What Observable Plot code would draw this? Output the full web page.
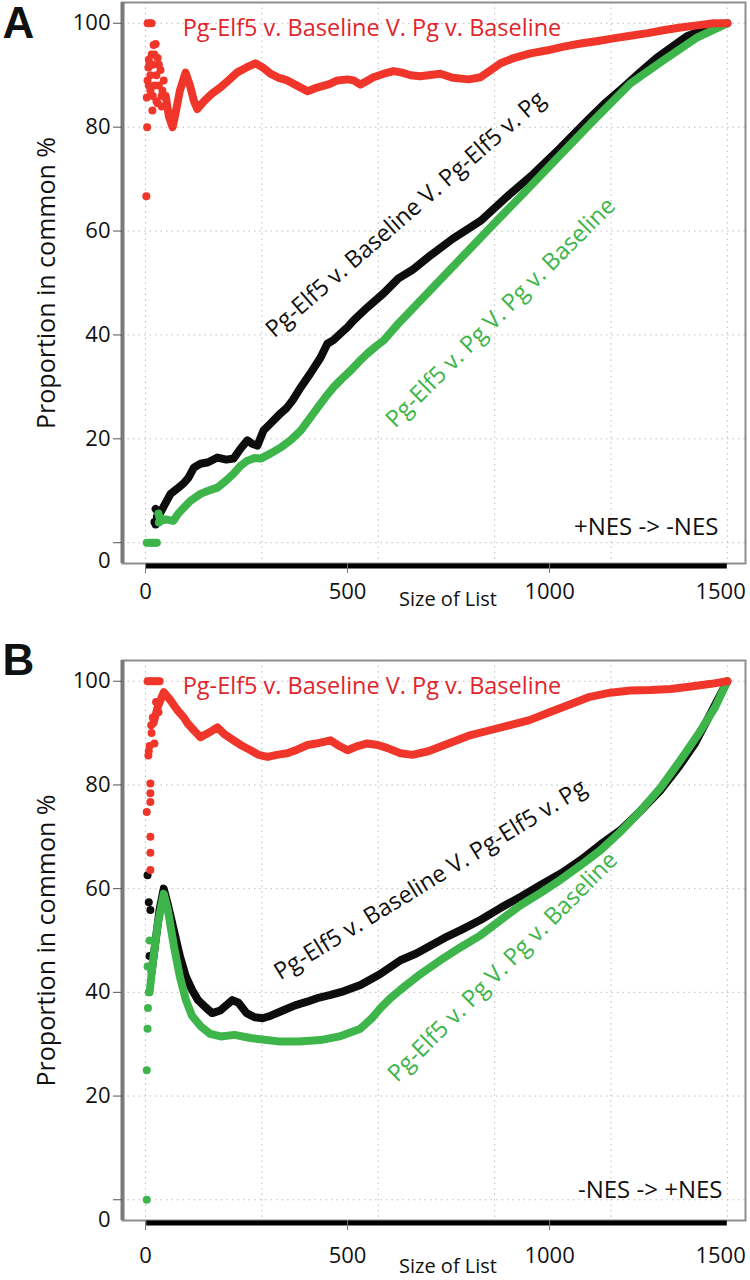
<!DOCTYPE html>
<html><head><meta charset="utf-8">
<script src="https://cdn.jsdelivr.net/npm/d3@7"></script>
<script src="https://cdn.jsdelivr.net/npm/@observablehq/plot@0.6"></script>
<style>
body{margin:0;background:#fff;}
#chart{width:750px;}
#chart svg{display:block;}
</style></head><body><div id="chart"></div>
<script>
// ---------- shared axis values ----------
const yTicks = [0, 20, 40, 60, 80, 100];
const xTicks = [0, 500, 1000, 1500];
const gridX = [0, 288, 576, 864, 1152, 1440];

// ---------- Panel A (+NES -> -NES) ----------
const aRedX = [50,58,67,75,85,99,110,120,128,145,165,186,205,228,250,272,290,309,330,351,375,401,420,433,455,475,500,515,532,550,564,590,614,635,656,680,700,730,760,800,829,855,879,911,953,995,1035,1077,1120,1158,1200,1243,1285,1324,1365,1406,1440];
const aRedY = [86,82,80,83,87,90.5,88,85,83.5,85,86.5,87.7,89,90.6,91.5,92.3,91.5,90.3,89.5,89,88,86.9,87.5,87.8,88.3,89,89.2,89,88.2,89,89.6,90.3,90.8,90.5,90,89.8,90,90.3,89.5,89.2,89.6,91,92.3,93.3,94.2,94.8,95.5,96.1,96.6,97.1,97.6,98.1,98.7,99.2,99.6,100,100];
const aRedDotX = [2,4,5,10,15,3,5,7,10,12,15,17,20,25,30,30,37,42,45,8,8,12,18,18,22,22,27,27,33,33,40,40];
const aRedDotY = [66.7,80,100,100,100,85.7,89,91.5,92,87,94,83.2,95.8,96,93.3,84.6,91,87,89,88,93,90,86,92,88,94,85,90,88,92,84,86];

const aBlackX = [25,35,45,62,80,95,106,120,136,155,178,200,218,235,252,265,277,292,310,334,350,364,384,408,433,450,465,483,500,515,549,589,626,660,700,760,830,900,960,1020,1094,1140,1183,1225,1265,1300,1340,1400,1440];
const aBlackY = [6.5,5.5,7,9.4,10.5,11.5,12.5,14.5,15.2,15.5,16.4,16,16.2,18.1,19.7,19,18.7,21.6,23,24.9,26,27.4,29.9,32.6,35.6,38.3,39,40.3,41.5,42.8,45.3,48,50.9,52.5,55,58.5,62,67,71,75.5,81.3,84.8,87.7,90.6,93.3,95.3,97.5,99.3,100];
const aBlackDotX = [22,25,28];
const aBlackDotY = [4,3.5,5];

const aGreenX = [32,37,50,69,80,94,110,136,155,178,200,218,235,252,270,285,310,334,360,384,405,426,445,465,485,507,530,549,570,589,610,626,700,780,860,940,1020,1109,1200,1282,1366,1440];
const aGreenY = [5.6,4.2,4.5,4.2,5.5,6.7,8,9.4,10,10.6,12,13.3,14.8,15.8,16.3,16.2,17.2,18.3,19.8,21.6,23.8,26,28,29.9,31.5,33.1,35,36.4,37.8,38.9,40.8,42.2,48.2,54.7,61.2,67.6,74.1,81.3,88.4,92.9,97.3,100];
const aGreenDotX = [3,8,13,18,23,28,33];
const aGreenDotY = [0,0,0,0,0,0,3.9];

// ---------- Panel B (-NES -> +NES) ----------
const bRedX = [20,30,45,60,79,95,104,120,136,155,178,195,218,240,260,280,302,325,351,375,401,430,458,480,500,525,549,575,599,631,660,700,750,800,850,900,950,1000,1050,1100,1150,1200,1250,1300,1350,1400,1440];
const bRedY = [92,95,97.9,96.5,94.4,93,91.9,90.5,89.2,90,91.1,89.8,88.6,87.5,86.7,85.8,85.4,85.8,86.1,86.8,87.7,88.1,88.6,87.5,86.7,87.5,88,87.7,87.1,86.1,85.8,86.5,88,89.5,90.5,91.5,92.5,94,95.5,97,97.8,98.2,98.3,98.5,99,99.5,100];
const bRedDotX = [5,10,15,20,25,30,35,7,12,12,12,3,12,12,12,15,18,22,8,10,14,26,32];
const bRedDotY = [100,100,100,100,100,100,100,85.7,80.3,78.4,76.7,74.8,70,66.9,63.6,90,93,88,86.5,87.5,91.5,96,94];

const bBlackX = [15,25,35,45,55,70,85,100,115,130,150,165,185,200,215,230,250,270,290,310,340,370,400,430,458,490,532,580,631,670,705,740,780,830,879,930,978,1030,1077,1126,1176,1225,1275,1320,1360,1400,1440];
const bBlackY = [44,50,56,60,57,52,47,43,40.5,38.5,37,36,36.5,37.5,38.5,38,36,35.2,35,35.5,36.5,37.5,38.2,39,39.5,40.2,41.4,43.5,46.2,47.5,49,50.5,52,54,56.3,58.5,60.7,63,65.5,68.5,71.3,75,79,83.5,88,94,100];
const bBlackDotX = [5,8,12,10];
const bBlackDotY = [62.6,57.4,55.9,47];

const bGreenX = [10,20,30,45,55,70,85,100,115,136,160,186,220,260,300,334,380,433,480,532,560,582,605,631,680,730,780,829,880,928,978,1027,1077,1126,1176,1225,1275,1324,1370,1410,1440];
const bGreenY = [40,47,53,59,56,49,43,38.5,35.5,33.5,32,31.5,31.8,31.2,30.8,30.5,30.5,30.8,31.5,33,35,37,38.8,40.5,43.5,46.2,48.7,51,54,56.8,59.2,61.7,64.5,67.4,71,75,79.5,84.8,90,95,100];
const bGreenDotX = [3,3,5,8,5,10,6];
const bGreenDotY = [0,25,33,40,45,50,37];

// ---------- labels ----------
const redName = "Pg-Elf5 v. Baseline V. Pg v. Baseline";
const blackName = "Pg-Elf5 v. Baseline V. Pg-Elf5 v. Pg";
const greenName = "Pg-Elf5 v. Pg V. Pg v. Baseline";

const RED = "#f0362a", BLACK = "#0d0d0d", GREEN = "#3db54a";
const FONT = "Open Sans";

const rows = (xs, ys) => xs.map((x, i) => ({x, y: ys[i]}));

function panel(p) {
  const allX = [...p.redX, ...p.blackX, ...p.greenX, ...p.redDotX, ...p.greenDotX];
  const lineOpts = (c) => ({x: "x", y: "y", stroke: c, strokeWidth: 8, strokeLinejoin: "round", strokeLinecap: "round"});
  const dotOpts = (c) => ({x: "x", y: "y", r: 4, fill: c});
  const fmt = (d) => String(d);
  return Plot.plot({
    width: 750, height: p.height,
    marginTop: p.marginTop, marginBottom: p.marginBottom, marginLeft: 122, marginRight: 5,
    style: {fontFamily: FONT, fontSize: "22px", color: "#111", background: "#fff", overflow: "visible"},
    x: {domain: [-57, 1485]},
    y: {domain: [-4, 104]},
    marks: [
      Plot.ruleY(yTicks, {stroke: "#bdbdbd", strokeDasharray: "1.5,4"}),
      Plot.ruleX(gridX, {stroke: "#bdbdbd", strokeDasharray: "1.5,4"}),
      Plot.frame({stroke: "#8e8e8e", strokeWidth: 2}),
      Plot.ruleX([-57], {stroke: "#7a7a7a", strokeWidth: 4}),
      // series
      Plot.dot(rows(p.blackDotX, p.blackDotY), dotOpts(BLACK)),
      Plot.line(rows(p.blackX, p.blackY), lineOpts(BLACK)),
      Plot.dot(rows(p.greenDotX, p.greenDotY), dotOpts(GREEN)),
      Plot.line(rows(p.greenX, p.greenY), lineOpts(GREEN)),
      Plot.dot(rows(p.redDotX, p.redDotY), dotOpts(RED)),
      Plot.line(rows(p.redX, p.redY), lineOpts(RED)),
      // rug of list sizes along the bottom
      Plot.ruleY([-4.5], {x1: d3.min(allX), x2: d3.max(allX), stroke: "#000", strokeWidth: 5}),
      // axes
      Plot.axisY(yTicks, {label: null, tickSize: 9, tickPadding: 3, stroke: "#555", fill: "#111", fontSize: 22,
        tickFormat: (d) => d === 0 ? "" : fmt(d)}),
      Plot.axisY([0], {label: null, tickSize: 0, tickPadding: 12, dy: p.zeroDy, fill: "#111", fontSize: 22, tickFormat: fmt}),
      Plot.axisX(xTicks.filter((d) => d < 1500), {label: null, tickSize: 10, tickPadding: p.xPad, stroke: "#777", fill: "#111", fontSize: 22, tickFormat: fmt}),
      Plot.axisX([1500], {label: null, tickSize: 0, tickPadding: p.xPad + 10, dx: -31, fill: "#111", fontSize: 22, tickFormat: fmt}),
      Plot.text(["Size of List"], {frameAnchor: "bottom", dx: 14, dy: p.xLabelDy, fontSize: 20, fill: "#111"}),
      Plot.text(["Proportion in common %"], {frameAnchor: "left", textAnchor: "middle", rotate: -90, dx: -76, fontSize: 25, fill: "#111"}),
      Plot.text([p.letter], {frameAnchor: "top-left", textAnchor: "start", lineAnchor: "top", dx: -120, dy: p.letterDy, fontSize: 44, fontWeight: "bold",
        fontFamily: "Liberation Sans", fill: "#111"}),
      // series labels
      Plot.text([{x: 92, y: 99, t: redName}], {x: "x", y: "y", text: "t", textAnchor: "start", fill: "#e0252c", fontSize: 23.5}),
      Plot.text([{x: p.blackLab[0], y: p.blackLab[1], t: blackName}], {x: "x", y: "y", text: "t", rotate: p.blackLab[2], fill: "#111", fontSize: 23.5}),
      Plot.text([{x: p.greenLab[0], y: p.greenLab[1], t: greenName}], {x: "x", y: "y", text: "t", rotate: p.greenLab[2], fill: GREEN, fontSize: 23.5}),
      Plot.text([{x: p.dirLab[0], y: p.dirLab[1], t: p.dir}], {x: "x", y: "y", text: "t", textAnchor: "end", fill: "#111", fontSize: 24})
    ]
  });
}

const chart = document.getElementById("chart");
chart.append(panel({
  letter: "A", height: 620, marginTop: 2, marginBottom: 57, zeroDy: 18, xPad: 10, xLabelDy: 42, letterDy: 4,
  redX: aRedX, redY: aRedY, redDotX: aRedDotX, redDotY: aRedDotY,
  blackX: aBlackX, blackY: aBlackY, blackDotX: aBlackDotX, blackDotY: aBlackDotY,
  greenX: aGreenX, greenY: aGreenY, greenDotX: aGreenDotX, greenDotY: aGreenDotY,
  blackLab: [644, 63.2, -41], greenLab: [879, 44.3, -45], dir: "+NES -> -NES", dirLab: [1418, 2.9]
}));
chart.append(panel({
  letter: "B", height: 660, marginTop: 40, marginBottom: 60, zeroDy: 20, xPad: 17, xLabelDy: 52, letterDy: -17,
  redX: bRedX, redY: bRedY, redDotX: bRedDotX, redDotY: bRedDotY,
  blackX: bBlackX, blackY: bBlackY, blackDotX: bBlackDotX, blackDotY: bBlackDotY,
  greenX: bGreenX, greenY: bGreenY, greenDotX: bGreenDotX, greenDotY: bGreenDotY,
  blackLab: [705, 61.7, -31.5], greenLab: [884, 44.9, -45], dir: "-NES -> +NES", dirLab: [1428, 1.9]
}));
</script></body></html>
